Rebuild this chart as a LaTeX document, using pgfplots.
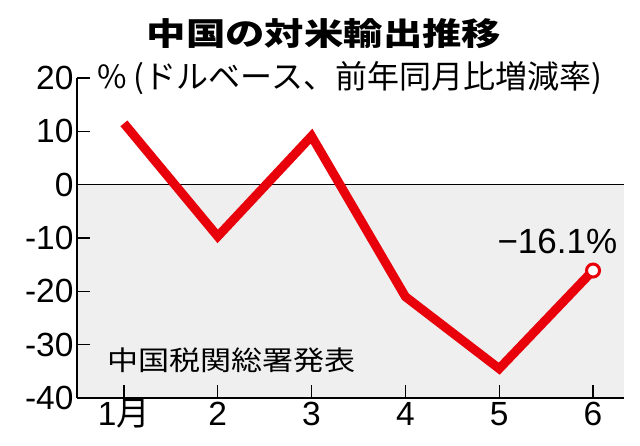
\documentclass[border=0pt]{standalone}
\usepackage{fontspec}
\setmainfont{Liberation Sans}
\newfontfamily\jp{Noto Sans CJK JP}
\usepackage{pgfplots}
\pgfplotsset{compat=1.18}
\definecolor{chartred}{RGB}{232,0,10}
\definecolor{negbg}{RGB}{239,239,239}

\begin{document}
\begin{tikzpicture}
\useasboundingbox (-77pt,-48pt) rectangle (563pt,398pt);
\begin{axis}[
    scale only axis,
    width=547pt, height=320pt,
    xmin=0.5, xmax=6.33,
    ymin=-40, ymax=20,
    axis x line*=bottom, axis y line*=left,
    axis line style={line width=1.6pt, -},
    xtick={1,...,6},
    xticklabels={1{\jp 月},2,3,4,5,6},
    ytick={-40,-30,...,20},
    yticklabels={-40,-30,-20,-10,0,10,20},
    tick align=inside,
    major tick length=13pt,
    tick style={line width=1.4pt, black},
    ticklabel style={font=\fontsize{33.5}{36}\selectfont},
    xticklabel style={text height=24pt, text depth=0pt},
    clip=false,
    axis on top,
]
% negative region and zero line
\fill[negbg] (axis cs:0.5,-40) rectangle (axis cs:6.33,0);
\draw[line width=1.2pt] (axis cs:0.5,0) -- (axis cs:6.33,0);

\addplot[chartred, line width=9pt, line join=miter, line cap=butt, no marks]
    coordinates {(1,11.5)(2,-9.7)(3,9.1)(4,-21.0)(5,-34.5)(6,-16.1)};
\addplot[only marks, mark=*, mark size=6.5pt,
    mark options={draw=chartred, fill=white, line width=3pt}]
    coordinates {(6,-16.1)};

\node[font=\fontsize{35}{38}\selectfont] at (axis cs:5.62,-10.7) {−16.1\%};
\end{axis}

\node at (247pt,364pt) {\scalebox{1.25}[1]{\jp\bfseries\fontsize{31.5}{34}\selectfont 中国の対米輸出推移}};
\node[anchor=west, inner sep=0pt] at (20pt,320pt) {\jp\fontsize{32}{34}\selectfont \% (ドルベース、前年同月比増減率)};
\node[anchor=west, inner sep=0pt] at (30pt,38pt) {\scalebox{1.15}[1]{\jp\fontsize{27}{30}\selectfont 中国税関総署発表}};
\end{tikzpicture}
\end{document}
